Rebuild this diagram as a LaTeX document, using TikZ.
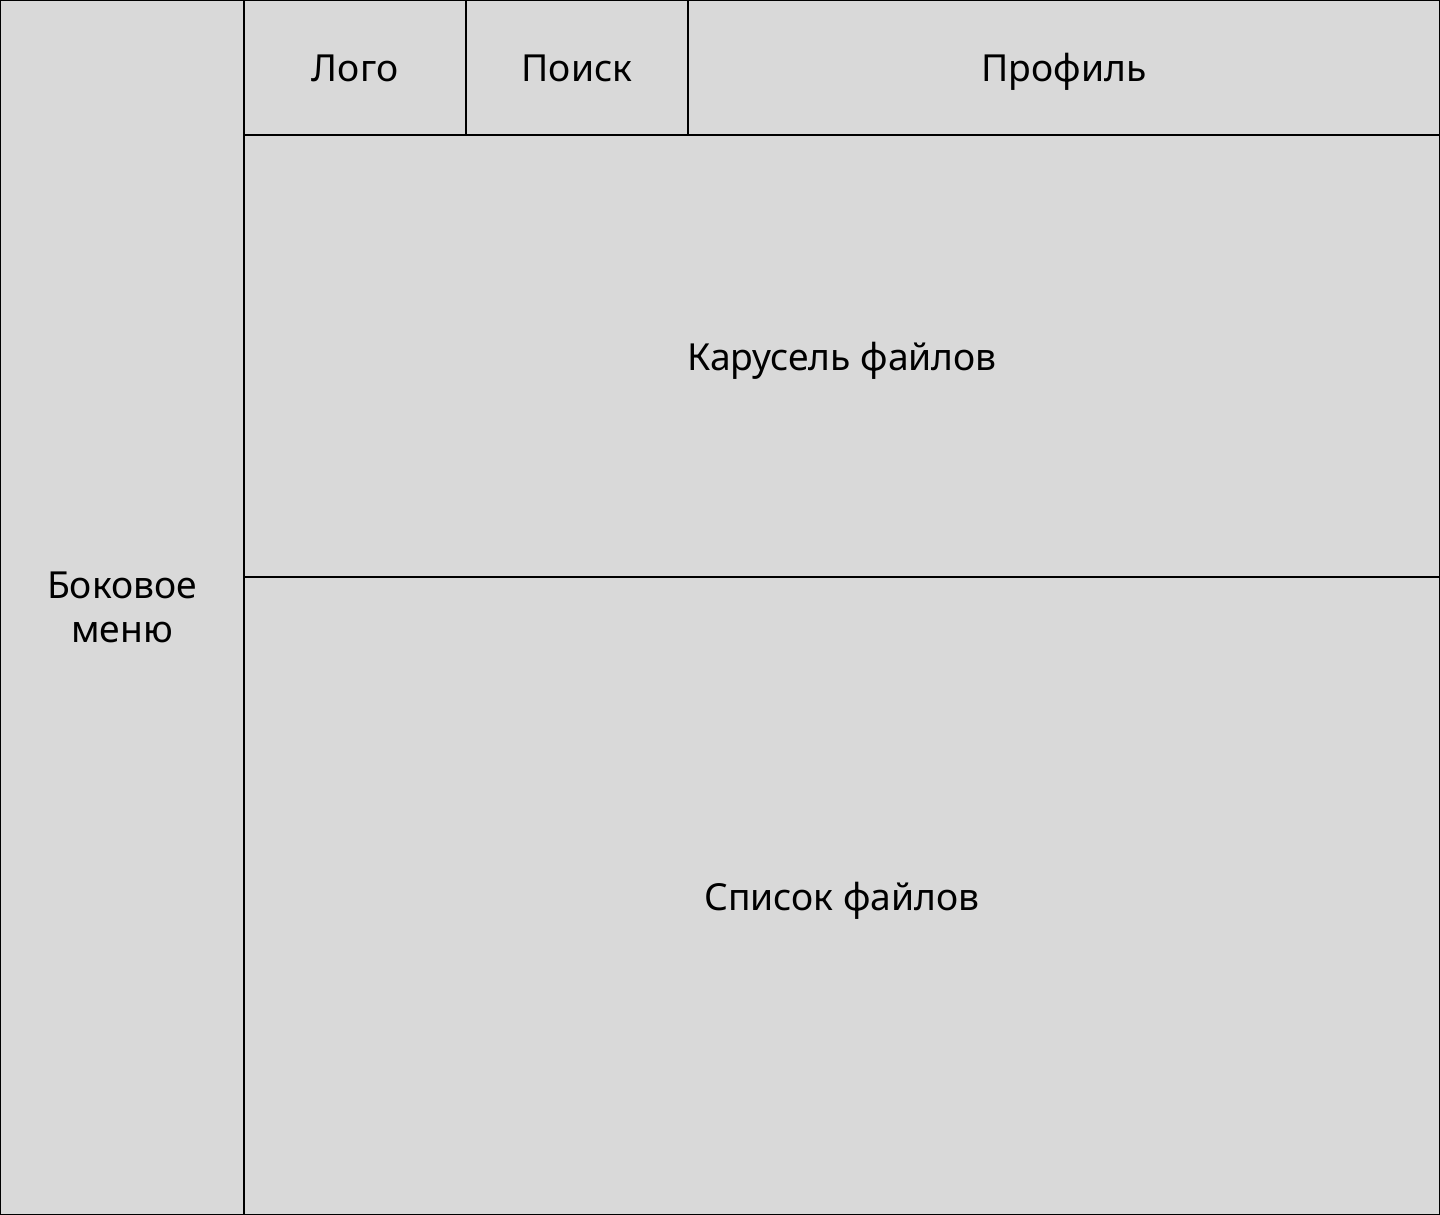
\documentclass[tikz,border=0pt]{standalone}
\usepackage{fontspec}
\setmainfont{Noto Sans}
\usetikzlibrary{positioning}

\tikzset{
  block/.style={draw=black, fill=boxgray, line width=0.05cm, inner sep=0pt, outer sep=0pt,
    font=\fontsize{26.5}{31}\selectfont, align=center, text height=20.5pt, text depth=0pt},
}
\definecolor{boxgray}{HTML}{D9D9D9}

\begin{document}
\begin{tikzpicture}
\useasboundingbox (0,0) rectangle (36,-30.375);
% sidebar
\node[block, text height=, text depth=, minimum width=6.1cm, minimum height=30.375cm] (menu) at (3.05,-15.1875) {Боковое\\меню};
% header
\node[block, minimum width=5.55cm, minimum height=3.375cm, anchor=north west] (logo) at (menu.north east) {Лого};
\node[block, minimum width=5.55cm, minimum height=3.375cm, right=0pt of logo] (search) {Поиск};
\node[block, minimum width=18.8cm, minimum height=3.375cm, right=0pt of search] (profile) {Профиль};
% content
\node[block, minimum width=29.9cm, minimum height=11.05cm, anchor=north west] (carousel) at (logo.south west) {Карусель файлов};
\node[block, minimum width=29.9cm, minimum height=15.95cm, below=0pt of carousel] (files) {Список файлов};
\end{tikzpicture}
\end{document}
